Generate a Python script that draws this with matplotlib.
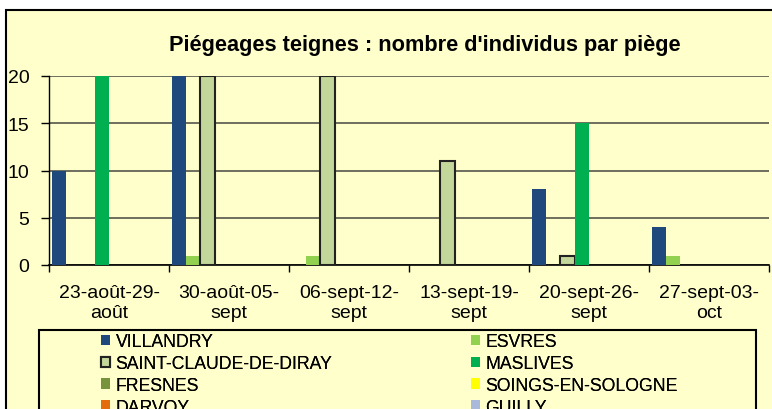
import matplotlib
matplotlib.use("Agg")
import matplotlib.pyplot as plt
from matplotlib.patches import Rectangle, Patch
import numpy as np

plt.rcParams['font.family'] = ['Liberation Sans', 'DejaVu Sans']

title = "Piégeages teignes : nombre d'individus par piège"
categories = ["23-août-29-\naoût", "30-août-05-\nsept", "06-sept-12-\nsept",
              "13-sept-19-\nsept", "20-sept-26-\nsept", "27-sept-03-\noct"]
series_names = ["VILLANDRY", "ESVRES", "SAINT-CLAUDE-DE-DIRAY", "MASLIVES",
                "FRESNES", "SOINGS-EN-SOLOGNE", "DARVOY", "GUILLY"]
villandry = [10, 20, 0, 0, 8, 4]
esvres = [0, 1, 1, 0, 0, 1]
saint_claude = [0, 20, 20, 11, 1, 0]
maslives = [20, 0, 0, 0, 15, 0]
fresnes = [0, 0, 0, 0, 0, 0]
soings = [0, 0, 0, 0, 0, 0]
darvoy = [0, 0, 0, 0, 0, 0]
guilly = [0, 0, 0, 0, 0, 0]
series_values = [villandry, esvres, saint_claude, maslives, fresnes, soings, darvoy, guilly]
colors = ["#1F497D", "#92D050", "#C4D79B", "#00B050", "#77933C", "#FFFF00", "#E46C0A", "#A9B9DB"]
edges = [None, None, "#222222", None, None, None, None, None]
yticks = [0, 5, 10, 15, 20]

W, H = 772, 410
fig = plt.figure(figsize=(W / 100, H / 100), dpi=100)
fig.patch.set_facecolor("white")

def px(x, y):
    return x / W, 1 - y / H

# chart area background with border
bx, by = px(6, 11)
fig.add_artist(Rectangle((bx, -0.2), 1.5, by + 0.2, transform=fig.transFigure,
                         facecolor="#FFFFCC", edgecolor="black", lw=1.5, zorder=0))

left, top = px(49, 77)
right, bottom = px(769, 266)
ax = fig.add_axes([left, bottom, right - left, top - bottom])
ax.set_facecolor("#FFFFCC")
ax.patch.set_alpha(0)

n = len(series_names)
w = 0.119
x = np.arange(len(categories))
for k, (name, vals, c, e) in enumerate(zip(series_names, series_values, colors, edges)):
    vv = [v if v != 0 else np.nan for v in vals]
    ax.bar(x + (k - (n - 1) / 2) * w, vv, width=w, color=c,
           edgecolor=e if e else c, linewidth=1.5 if e else 0, zorder=3)

ax.set_xlim(-0.5, len(categories) - 0.5)
ax.set_ylim(0, 20)
ax.set_yticks(yticks)
ax.set_yticklabels([str(t) for t in yticks])
ax.grid(axis="y", color="#55554a", linewidth=1.2, zorder=1)
ax.set_axisbelow(True)

ax.set_xticks(np.arange(-0.5, len(categories)), minor=False)
ax.set_xticklabels([])
ax.set_xticks(x, minor=True)
ax.set_xticklabels(categories, minor=True, fontsize=14, linespacing=1.22)
ax.tick_params(axis="x", which="major", length=5, width=1, color="black")
ax.tick_params(axis="x", which="minor", length=0, pad=14)
ax.tick_params(axis="y", length=6, width=1, labelsize=14, pad=8)

for s in ["top", "right"]:
    ax.spines[s].set_visible(False)
ax.spines["left"].set_linewidth(1)
ax.spines["bottom"].set_linewidth(1.2)

tx, ty = px(424.5, 45)
fig.text(tx, ty, title, ha="center", va="center", fontsize=15.7, fontweight="bold")

# legend frame
lx, ly = px(39, 331)
fig.add_artist(Rectangle((lx, -0.2), px(756, 0)[0] - lx, ly + 0.2, transform=fig.transFigure,
                         facecolor="none", edgecolor="black", lw=1.5, zorder=5))

handles = [Patch(facecolor=c, edgecolor=(e if e else c), linewidth=1.5 if e else 0)
           for c, e in zip(colors, edges)]
col1 = [0, 2, 4, 6]
col2 = [1, 3, 5, 7]
for idxs, xpos in [(col1, 101), (col2, 471)]:
    leg = fig.legend([handles[i] for i in idxs], [series_names[i] for i in idxs],
                     loc="upper left", bbox_to_anchor=px(xpos, 334), frameon=False,
                     fontsize=12.7, handlelength=0.52, handleheight=0.52,
                     handletextpad=0.3, labelspacing=0.28, borderpad=0, borderaxespad=0)
    fig.add_artist(leg)

fig.savefig("out.png", dpi=100)
